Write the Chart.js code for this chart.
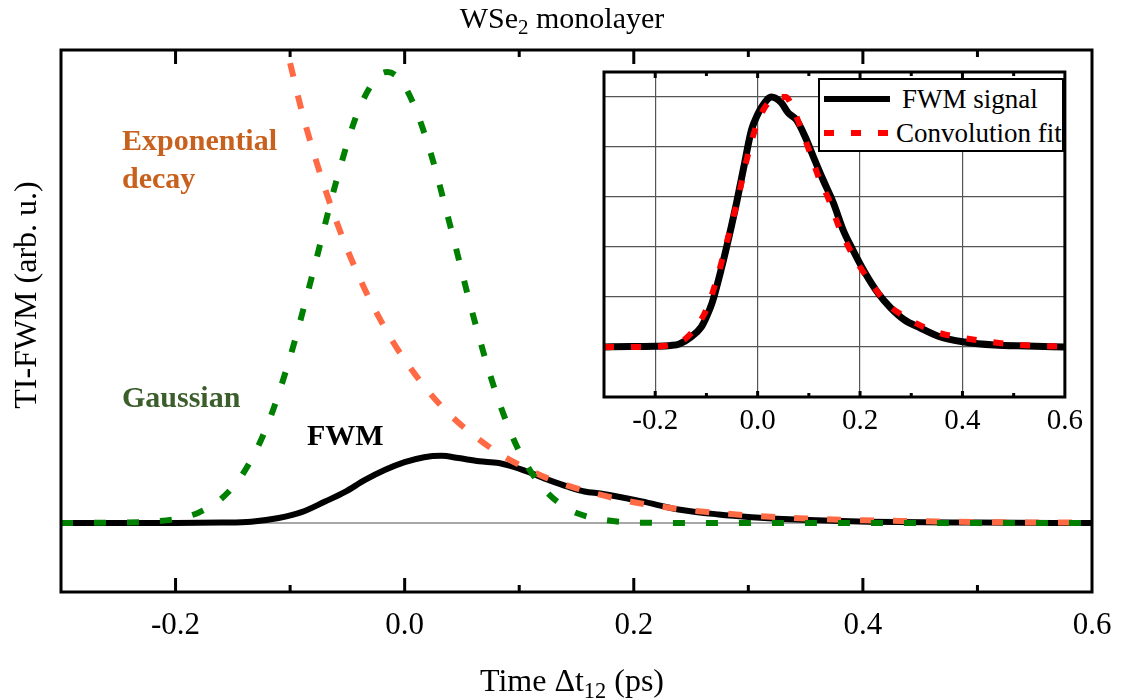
<!DOCTYPE html>
<html>
<head>
<meta charset="UTF-8">
<title>WSe2 monolayer - TI-FWM</title>
<script src="https://cdn.jsdelivr.net/npm/chart.js"></script>
<style>
  body {margin:0; background:#fff;}
  #wrap {position:relative; width:1124px; height:700px; font-family:'Liberation Serif','Times New Roman',serif; color:#000;}
  #main {position:absolute; left:0; top:0;}
  #insetBox {position:absolute; left:590px; top:66px; width:500px; height:376px; background:#fff;}
  .txt {position:absolute; white-space:nowrap;}
  sub {font-size:0.7em; vertical-align:-0.3em; line-height:0;}
  .note {font-weight:bold; font-size:30px; line-height:30px;}
  #legend {position:absolute; left:818px; top:78px; width:242px; height:70px; border:2px solid #000; background:#fff; font-size:27px;}
  #legend .row {position:absolute; left:0; width:242px; height:30px; line-height:30px; white-space:nowrap;}
  #legend svg {position:absolute; left:4px; top:8px;}
  #legend span {position:absolute; white-space:nowrap;}
</style>
</head>
<body>
<div id="wrap">
  <canvas id="main" width="1124" height="700"></canvas>
  <div id="insetBox"><canvas id="inset" width="500" height="376"></canvas></div>

  <div class="txt" style="left:0; width:1124px; text-align:center; top:3px; font-size:30px; line-height:30px;">WSe<sub>2</sub> monolayer</div>
  <div class="txt" style="left:422px; width:300px; text-align:center; top:664px; font-size:32px; line-height:32px;">Time &Delta;t<sub>12</sub> (ps)</div>
  <div class="txt" style="left:-175px; top:278px; width:400px; text-align:center; font-size:32px; line-height:34px; transform:rotate(-90deg);">TI-FWM (arb. u.)</div>

  <div class="txt note" style="left:122px; top:121px; line-height:38px; color:#c8601e;">Exponential<br>decay</div>
  <div class="txt note" style="left:122px; top:382px; color:#3b5e2b;">Gaussian</div>
  <div class="txt note" style="left:307px; top:420px;">FWM</div>

  <div id="legend">
    <div class="row" style="top:4px;">
      <svg width="70" height="14"><line x1="0" y1="7" x2="66" y2="7" stroke="#000" stroke-width="6"/></svg>
      <span style="left:82px;">FWM signal</span>
    </div>
    <div class="row" style="top:38px;">
      <svg width="70" height="14"><line x1="0" y1="7" x2="66" y2="7" stroke="#ff0000" stroke-width="6" stroke-dasharray="10 17"/></svg>
      <span style="left:76px;">Convolution fit</span>
    </div>
  </div>
</div>

<script>
// main panel: time axis (ps)
const mainTickLabels = [-0.2, 0, 0.2, 0.4, 0.6];
const majorTicks = [-0.2, 0, 0.2, 0.4];
const minorTicks = [-0.1, 0.1, 0.3, 0.5];

// zero line
const zeroX = [-0.3, 0.6];
const zeroY = [0, 0];

// measured FWM (main panel, scaled to gaussian peak = 1)
const fwmX = [-0.30, -0.25, -0.20, -0.16, -0.134, -0.11, -0.09, -0.07, -0.052, -0.035, -0.017, 0.0, 0.017, 0.032, 0.047, 0.065, 0.082, 0.093, 0.108, 0.126, 0.143, 0.157, 0.172, 0.207, 0.239, 0.274, 0.303, 0.347, 0.405, 0.5, 0.6];
const fwmY = [0, 0, 0, 0.001, 0.003, 0.011, 0.024, 0.047, 0.069, 0.095, 0.118, 0.135, 0.146, 0.149, 0.144, 0.137, 0.133, 0.126, 0.113, 0.095, 0.08, 0.07, 0.065, 0.048, 0.03, 0.019, 0.013, 0.007, 0.003, 0.001, 0];

// gaussian pulse
const gaussX = [-0.30, -0.25, -0.22, -0.20, -0.18, -0.16, -0.14, -0.12, -0.10, -0.08, -0.06, -0.04, -0.02, -0.015, 0.0, 0.02, 0.04, 0.06, 0.08, 0.10, 0.12, 0.14, 0.16, 0.18, 0.20, 0.25, 0.30, 0.40, 0.50, 0.60];
const gaussY = [0, 0.001, 0.003, 0.009, 0.023, 0.054, 0.114, 0.216, 0.368, 0.556, 0.755, 0.917, 0.997, 1.0, 0.969, 0.843, 0.657, 0.458, 0.286, 0.159, 0.080, 0.035, 0.014, 0.005, 0.001, 0, 0, 0, 0, 0];

// exponential decay
const expX = [-0.10, -0.09, -0.08, -0.07, -0.06, -0.05, -0.04, -0.03, -0.02, -0.01, 0.0, 0.02, 0.04, 0.06, 0.08, 0.10, 0.125, 0.15, 0.175, 0.20, 0.25, 0.30, 0.35, 0.40, 0.45, 0.50, 0.60];
const expY = [1.02, 0.915, 0.826, 0.745, 0.672, 0.606, 0.547, 0.493, 0.445, 0.401, 0.362, 0.294, 0.239, 0.195, 0.158, 0.129, 0.099, 0.077, 0.06, 0.046, 0.028, 0.017, 0.01, 0.006, 0.004, 0.002, 0.001];

// inset: normalised FWM signal and convolution fit
const insetGridY = [0, 0.2, 0.4, 0.6, 0.8, 1.0];
const insFwmX = [-0.30, -0.25, -0.20, -0.17, -0.153, -0.13, -0.11, -0.10, -0.089, -0.07, -0.056, -0.04, -0.027, -0.012, 0.0, 0.008, 0.027, 0.045, 0.06, 0.076, 0.093, 0.109, 0.128, 0.148, 0.167, 0.186, 0.21, 0.235, 0.26, 0.287, 0.318, 0.357, 0.404, 0.462, 0.526, 0.60];
const insFwmY = [0, 0.002, 0.003, 0.006, 0.012, 0.04, 0.08, 0.12, 0.176, 0.32, 0.44, 0.588, 0.72, 0.868, 0.93, 0.96, 1.0, 0.98, 0.936, 0.908, 0.84, 0.76, 0.668, 0.576, 0.468, 0.388, 0.296, 0.216, 0.156, 0.108, 0.076, 0.04, 0.02, 0.008, 0.004, 0];
const insFitX = [-0.30, -0.25, -0.20, -0.18, -0.16, -0.14, -0.12, -0.10, -0.08, -0.06, -0.04, -0.02, 0.0, 0.02, 0.04, 0.055, 0.07, 0.08, 0.10, 0.12, 0.14, 0.16, 0.18, 0.20, 0.22, 0.24, 0.26, 0.28, 0.30, 0.33, 0.36, 0.40, 0.45, 0.50, 0.55, 0.60];
const insFitY = [0, 0, 0.002, 0.005, 0.015, 0.035, 0.08, 0.15, 0.27, 0.42, 0.58, 0.76, 0.90, 0.975, 1.0, 1.0, 0.95, 0.9, 0.79, 0.675, 0.585, 0.475, 0.39, 0.32, 0.26, 0.205, 0.16, 0.13, 0.105, 0.075, 0.053, 0.037, 0.022, 0.01, 0.004, 0.002];

const serif = "'Liberation Serif', 'Times New Roman', serif";
const pts = (xs, ys) => xs.map((x, i) => ({x: x, y: ys[i]}));

// box frame + inward ticks on top and bottom
const framePlugin = {
  id: 'frame',
  afterDraw(chart, args, o) {
    const ctx = chart.ctx, a = chart.chartArea, xs = chart.scales.x;
    ctx.save();
    ctx.strokeStyle = '#000';
    ctx.lineWidth = o.tickWidth;
    const draw = (vals, len) => vals.forEach(v => {
      const px = xs.getPixelForValue(v);
      ctx.beginPath();
      ctx.moveTo(px, a.bottom); ctx.lineTo(px, a.bottom - len);
      ctx.moveTo(px, a.top); ctx.lineTo(px, a.top + len);
      ctx.stroke();
    });
    draw(majorTicks, o.majorLen);
    draw(minorTicks, o.minorLen);
    ctx.lineWidth = o.width;
    ctx.strokeRect(a.left, a.top, a.right - a.left, a.bottom - a.top);
    ctx.restore();
  }
};

new Chart(document.getElementById('main'), {
  type: 'line',
  data: {
    datasets: [
      {label: 'zero', data: pts(zeroX, zeroY), borderColor: '#8a8a8a', borderWidth: 1.5, order: 4},
      {label: 'FWM', data: pts(fwmX, fwmY), borderColor: '#000', borderWidth: 6, order: 3},
      {label: 'Exponential decay', data: pts(expX, expY), borderColor: '#ff6a45', borderWidth: 6, borderDash: [14, 19], order: 2},
      {label: 'Gaussian', data: pts(gaussX, gaussY), borderColor: '#008000', borderWidth: 6, borderDash: [12, 21], order: 1}
    ]
  },
  options: {
    responsive: false,
    animation: false,
    layout: {padding: {left: 61, right: 32, top: 50, bottom: 40}},
    elements: {point: {radius: 0}, line: {cubicInterpolationMode: 'monotone', borderCapStyle: 'butt'}},
    plugins: {
      legend: {display: false},
      tooltip: {enabled: false},
      frame: {width: 3, tickWidth: 3, majorLen: 14, minorLen: 7}
    },
    scales: {
      x: {
        type: 'linear', min: -0.3, max: 0.6,
        grid: {display: false}, border: {display: false},
        afterBuildTicks: s => { s.ticks = mainTickLabels.map(v => ({value: v})); },
        afterFit: s => { s.height = 68; },
        ticks: {font: {family: serif, size: 31}, color: '#000', padding: 7, callback: v => Number(v).toFixed(1)}
      },
      y: {display: false, min: -0.153, max: 1.049}
    }
  },
  plugins: [framePlugin]
});

new Chart(document.getElementById('inset'), {
  type: 'line',
  data: {
    datasets: [
      {label: 'FWM signal', data: pts(insFwmX, insFwmY), borderColor: '#000', borderWidth: 7, order: 2},
      {label: 'Convolution fit', data: pts(insFitX, insFitY), borderColor: '#ff0000', borderWidth: 6, borderDash: [10, 17], order: 1}
    ]
  },
  options: {
    responsive: false,
    animation: false,
    layout: {padding: {left: 14, right: 21, top: 6, bottom: 0}},
    elements: {point: {radius: 0}, line: {cubicInterpolationMode: 'monotone', borderCapStyle: 'butt'}},
    plugins: {
      legend: {display: false},
      tooltip: {enabled: false},
      frame: {width: 3, tickWidth: 3, majorLen: 6, minorLen: 4}
    },
    scales: {
      x: {
        type: 'linear', min: -0.3, max: 0.6,
        grid: {color: '#555', lineWidth: 1.2, drawTicks: false}, border: {display: false},
        afterBuildTicks: s => { s.ticks = mainTickLabels.map(v => ({value: v})); },
        afterFit: s => { s.height = 45; },
        ticks: {font: {family: serif, size: 29}, color: '#000', padding: 7, callback: v => Number(v).toFixed(1)}
      },
      y: {
        min: -0.2, max: 1.1,
        grid: {color: '#555', lineWidth: 1.2, drawTicks: false}, border: {display: false},
        afterBuildTicks: s => { s.ticks = insetGridY.map(v => ({value: v})); },
        afterFit: s => { s.width = 0; },
        ticks: {display: false}
      }
    }
  },
  plugins: [framePlugin]
});
</script>
</body>
</html>
